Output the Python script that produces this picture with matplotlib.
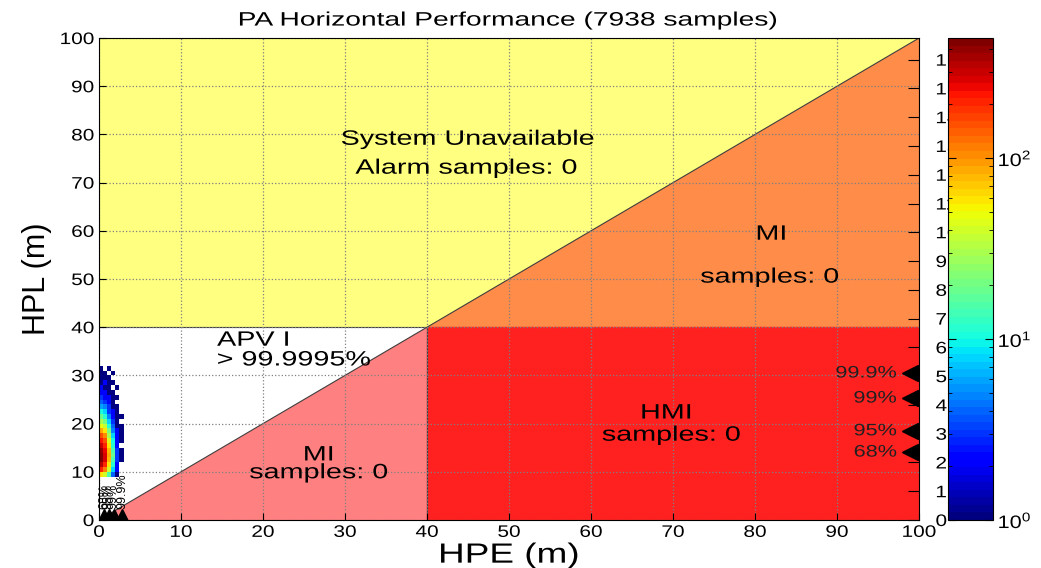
import numpy as np
import matplotlib
matplotlib.use('Agg')
import matplotlib.pyplot as plt
from matplotlib import patheffects
from matplotlib.colors import LogNorm
from matplotlib.ticker import LogLocator, NullFormatter
from matplotlib.transforms import Affine2D

plt.rcParams['font.family'] = ['Liberation Sans', 'DejaVu Sans']

# 2D histogram of HPE vs HPL (counts per cell)
hpe_edges = [0.0, 0.5, 1.0, 1.5, 2.0, 2.5, 3.0]
hpl_edges = [9, 10, 11, 12, 13, 14, 15, 16, 17, 18, 19, 20, 21, 22,
             23, 24, 25, 26, 27, 28, 29, 30, 31, 32]
counts = [
    [60, 40, 15, 4, 1, 0],
    [200, 120, 40, 8, 2, 0],
    [320, 200, 60, 12, 2, 0],
    [420, 260, 80, 15, 3, 1],
    [460, 280, 90, 18, 3, 1],
    [400, 250, 80, 15, 3, 1],
    [300, 200, 60, 12, 2, 0],
    [220, 150, 45, 10, 2, 1],
    [150, 100, 30, 8, 2, 1],
    [90, 60, 20, 5, 2, 1],
    [50, 35, 12, 4, 1, 1],
    [30, 20, 8, 3, 1, 0],
    [18, 12, 5, 2, 1, 1],
    [10, 8, 3, 2, 1, 0],
    [6, 5, 3, 1, 1, 0],
    [4, 3, 2, 1, 0, 0],
    [3, 2, 2, 1, 1, 0],
    [2, 2, 1, 1, 0, 0],
    [2, 1, 1, 0, 1, 0],
    [1, 2, 1, 1, 0, 0],
    [1, 1, 1, 0, 0, 0],
    [1, 1, 0, 1, 0, 0],
    [1, 0, 1, 0, 0, 0],
]

pct_labels = ['68%', '95%', '99%', '99.9%']
hpe_pct = [0.6, 1.2, 1.8, 2.8]
hpl_pct = [14.1, 18.5, 25.3, 30.5]

right_ticks = list(range(17))
alert_limit = 40
n_samples = 7938


class Stretch(patheffects.AbstractPathEffect):
    # widen glyphs along the text direction (the reference looks stretched)
    def __init__(self, sx, anchor='center'):
        super().__init__()
        self.sx = sx
        self.anchor = anchor

    def draw_path(self, renderer, gc, tpath, affine, rgbFace=None):
        ext = tpath.get_extents()
        if self.anchor == 'left':
            cx = ext.x0
        elif self.anchor == 'right':
            cx = ext.x1
        else:
            cx = (ext.x0 + ext.x1) / 2
        t = Affine2D().translate(-cx, 0).scale(self.sx, 1).translate(cx, 0) + affine
        renderer.draw_path(gc, tpath, t, rgbFace)


def wide(sx=1.38, anchor='center'):
    return [Stretch(sx, anchor)]


fig = plt.figure(figsize=(10.41, 5.68), dpi=100)
ax = fig.add_axes([0.0951, 0.0845, 0.7877, 0.8485])
ax.set_xlim(0, 100)
ax.set_ylim(0, 100)

# regions
ax.fill([0, alert_limit, 100, 0], [alert_limit, alert_limit, 100, 100], color='#FFFF80', zorder=0)
ax.fill([alert_limit, 100, 100], [alert_limit, alert_limit, 100], color='#FF8C48', zorder=0)
ax.fill([0, alert_limit, alert_limit], [0, 0, alert_limit], color='#FF8080', zorder=0)
ax.fill([alert_limit, 100, 100, alert_limit], [0, 0, alert_limit, alert_limit], color='#FF2020', zorder=0)
ax.plot([0, 100], [0, 100], color='#404040', lw=0.8, zorder=1)
ax.plot([0, alert_limit, alert_limit], [alert_limit, alert_limit, 0], color='#404040', lw=0.8, zorder=1)

ax.grid(True, linestyle=':', color='#808080', lw=0.9)
for gl in ax.get_xgridlines() + ax.get_ygridlines():
    gl.set_zorder(1.5)

cmap = plt.get_cmap('jet', 64)
norm = LogNorm(vmin=1, vmax=460)
c = np.ma.masked_equal(np.array(counts, dtype=float), 0)
mesh = ax.pcolormesh(hpe_edges, hpl_edges, c, cmap=cmap, norm=norm, zorder=2)

# percentile markers
for lab, x in zip(pct_labels, hpe_pct):
    ax.plot(x, 1.1, marker='^', color='k', ms=9, ls='none', zorder=3)
    ax.text(x, 2.3, lab, rotation=90, ha='center', va='bottom', fontsize=9, zorder=3)
for lab, y in zip(pct_labels, hpl_pct):
    ax.plot(98.9, y, marker='<', color='k', ms=12, ls='none', zorder=3, clip_on=False)
    ax.text(97.3, y, lab, ha='right', va='center', fontsize=12, color='#202020', zorder=3,
            path_effects=wide(1.3, 'right'))

tk = dict(ha='center', va='center', fontsize=15, zorder=3, path_effects=wide())
ax.text(45, 79, 'System Unavailable', **tk)
ax.text(44.8, 73, 'Alarm samples: 0', **tk)
ax.text(82, 59.3, 'MI', **tk)
ax.text(81.8, 50.4, 'samples: 0', **tk)
ax.text(14.4, 37.3, 'APV I', ha='left', va='center', fontsize=15, zorder=3,
        path_effects=wide(1.38, 'left'))
ax.text(14.4, 33.2, '> 99.9995%', ha='left', va='center', fontsize=15, zorder=3,
        path_effects=wide(1.38, 'left'))
ax.text(26.8, 13.5, 'MI', **tk)
ax.text(26.8, 9.8, 'samples: 0', **tk)
ax.text(69.2, 22.2, 'HMI', **tk)
ax.text(69.8, 17.6, 'samples: 0', **tk)

ax.set_xticks(range(0, 101, 10))
ax.set_yticks(range(0, 101, 10))
ax.tick_params(direction='in', labelsize=12, length=5)
ax.set_xlabel('HPE (m)', fontsize=20, labelpad=2, path_effects=wide(1.33))
ax.set_ylabel('HPL (m)', fontsize=22, labelpad=10)
ax.set_title('PA Horizontal Performance (%d samples)' % n_samples, fontsize=14, pad=9,
             path_effects=wide(1.45))

# secondary scale on the right edge
ax2 = ax.twinx()
ax2.set_ylim(0, 16.75)
ax2.set_yticks(right_ticks)
ax2.tick_params(direction='in', length=8, labelsize=12, pad=12)
for s in ax2.spines.values():
    s.set_visible(False)

# colorbar
cax = fig.add_axes([0.9107, 0.0845, 0.0432, 0.8485])
cb = fig.colorbar(mesh, cax=cax)
cb.outline.set_linewidth(0.8)
cax.yaxis.set_major_locator(LogLocator(base=10, numticks=5))
cax.yaxis.set_minor_locator(LogLocator(base=10, subs=np.arange(2, 10), numticks=12))
cax.yaxis.set_minor_formatter(NullFormatter())
cax.tick_params(which='both', direction='in', left=True, right=True, labelsize=13)
cax.tick_params(which='major', length=6)
cax.tick_params(which='minor', length=3)

fig.canvas.draw()
for t in ax.get_xticklabels():
    t.set_path_effects(wide(1.25))
for t in ax.get_yticklabels():
    t.set_path_effects(wide(1.25, 'right'))
for t in ax2.get_yticklabels():
    t.set_path_effects(wide(1.25, 'left'))
for t in cax.get_yticklabels():
    t.set_path_effects(wide(1.2, 'left'))

fig.savefig('out.png', dpi=100)
